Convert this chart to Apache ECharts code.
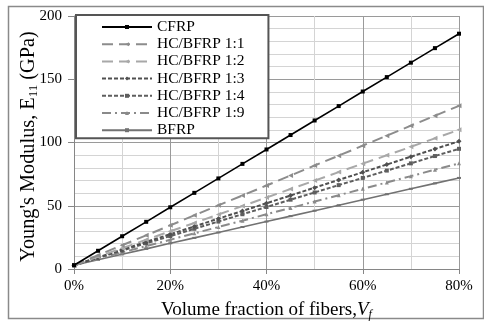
<!DOCTYPE html>
<html><head><meta charset="utf-8">
<script src="https://cdn.jsdelivr.net/npm/echarts@6/dist/echarts.min.js"></script>
<style>html,body{margin:0;padding:0;background:#fff}#c{width:484px;height:321px}</style>
</head><body><div id="c"></div>
<script>
const vf = [0,5,10,15,20,25,30,35,40,45,50,55,60,65,70,75,80];
const seriesNames = ['CFRP','HC/BFRP 1:1','HC/BFRP 1:2','HC/BFRP 1:3','HC/BFRP 1:4','HC/BFRP 1:9','BFRP'];
const cfrp  = [3,14.4,25.9,37.3,48.8,60.2,71.6,83.1,94.5,105.9,117.4,128.8,140.3,151.7,163.1,174.6,186];
const hb11  = [3,10.9,18.8,26.6,34.5,42.4,50.3,58.1,66,73.9,81.8,89.6,97.5,105.4,113.3,121.1,129];
const hb12  = [3,9.7,16.4,23.1,29.8,36.4,43.1,49.8,56.5,63.2,69.9,76.6,83.3,89.9,96.6,103.3,110];
const hb13  = [3,9.1,15.3,21.4,27.5,33.6,39.8,45.9,52,58.1,64.3,70.4,76.5,82.6,88.8,94.9,101];
const hb14  = [3,8.8,14.5,20.3,26,31.8,37.5,43.3,49,54.8,60.5,66.3,72,77.8,83.5,89.3,95];
const hb19  = [3,8.0,13.1,18.1,23.1,28.2,33.2,38.2,43.3,48.3,53.3,58.3,63.4,68.4,73.4,78.5,83.5];
const bfrp  = [3,7.3,11.6,15.9,20.3,24.6,28.9,33.2,37.5,41.8,46.1,50.4,54.8,59.1,63.4,67.7,72];
const yTicks = [0,50,100,150,200];
const xTicks = [0,20,40,60,80];

const allData = [cfrp,hb11,hb12,hb13,hb14,hb19,bfrp];
const styles = [
  {color:'#000000', width:1.6, type:'solid', symbol:'rect', size:4},
  {color:'#8c8c8c', width:2, type:[11,6], symbol:'triangle', size:5, rot:90},
  {color:'#a8a8a8', width:2, type:[11,6], symbol:'triangle', size:5, rot:90},
  {color:'#505050', width:2, type:[4,2], symbol:'diamond', size:5},
  {color:'#5e5e5e', width:2, type:[4,2], symbol:'rect', size:4},
  {color:'#8a8a8a', width:2, type:[9,4,2,4], symbol:'triangle', size:4},
  {color:'#727272', width:1.6, type:'solid', symbol:'rect', size:[4,2]}
];
const FONT = '"Liberation Serif", "DejaVu Serif", serif';

const chart = echarts.init(document.getElementById('c'), null, {renderer:'canvas'});
chart.setOption({
  backgroundColor:'#ffffff',
  animation:false,
  textStyle:{fontFamily:FONT},
  graphic:[{type:'rect', shape:{x:8.5,y:6.5,width:475,height:312}, style:{fill:'none', stroke:'#8a8a8a', lineWidth:1.5}, silent:true, z:-1}],
  grid:{left:74, right:25, top:16, bottom:52, containLabel:false, outerBoundsMode:'none'},
  legend:{
    orient:'vertical', left:76, top:15,
    backgroundColor:'#ffffff', borderColor:'#555555', borderWidth:2,
    padding:[4,24,0,25], itemWidth:50, itemHeight:5, itemGap:1.2,
    textStyle:{fontFamily:FONT, fontSize:15.5, color:'#000', lineHeight:14},
    data:seriesNames
  },
  xAxis:{
    type:'value', min:0, max:80, interval:20,
    axisLine:{show:true, lineStyle:{color:'#868686'}},
    axisTick:{show:true, length:5, lineStyle:{color:'#868686'}},
    axisLabel:{fontFamily:FONT, fontSize:15, color:'#000', margin:10,
      formatter:v=> xTicks.includes(v) ? v+'%' : ''},
    splitLine:{show:true, lineStyle:{color:'#9a9a9a', width:1}},
    minorTick:{show:false, splitNumber:2},
    minorSplitLine:{show:true, lineStyle:{color:'#d4d4d4', width:1}},
    name:'Volume fraction of fibers,{i|V}{s|f}',
    nameLocation:'middle', nameGap:30,
    nameTextStyle:{fontFamily:FONT, fontSize:19, color:'#000',
      rich:{i:{fontFamily:FONT, fontSize:19, fontStyle:'italic', color:'#000'},
            s:{fontFamily:FONT, fontSize:12, fontStyle:'italic', color:'#000', padding:[10,0,0,0]}}}
  },
  yAxis:{
    type:'value', min:0, max:200, interval:50,
    axisLine:{show:true, lineStyle:{color:'#868686'}},
    axisTick:{show:true, length:6, lineStyle:{color:'#868686'}},
    axisLabel:{fontFamily:FONT, fontSize:15, color:'#000', margin:12,
      formatter:v=> yTicks.includes(v) ? String(v) : ''},
    splitLine:{show:true, lineStyle:{color:'#9a9a9a', width:1}},
    minorTick:{show:false, splitNumber:5},
    minorSplitLine:{show:true, lineStyle:{color:'#d4d4d4', width:1}},
    name:"Young's Modulus, E{s|11} (GPa)",
    nameLocation:'middle', nameGap:34, nameMoveOverlap:false,
    nameTextStyle:{fontFamily:FONT, fontSize:20.3, color:'#000', padding:[0,8,0,0],
      rich:{s:{fontFamily:FONT, fontSize:13, color:'#000', padding:[10,0,0,0]}}}
  },
  series: seriesNames.map((n,i)=>({
    name:n, type:'line',
    data: vf.map((x,j)=>[x, allData[i][j]]),
    symbol: styles[i].symbol, symbolSize: styles[i].size, symbolRotate: styles[i].rot||0,
    showSymbol:true,
    lineStyle:{color:styles[i].color, width:styles[i].width, type:styles[i].type},
    itemStyle:{color:styles[i].color},
    z: 10 - i
  }))
});
</script></body></html>
